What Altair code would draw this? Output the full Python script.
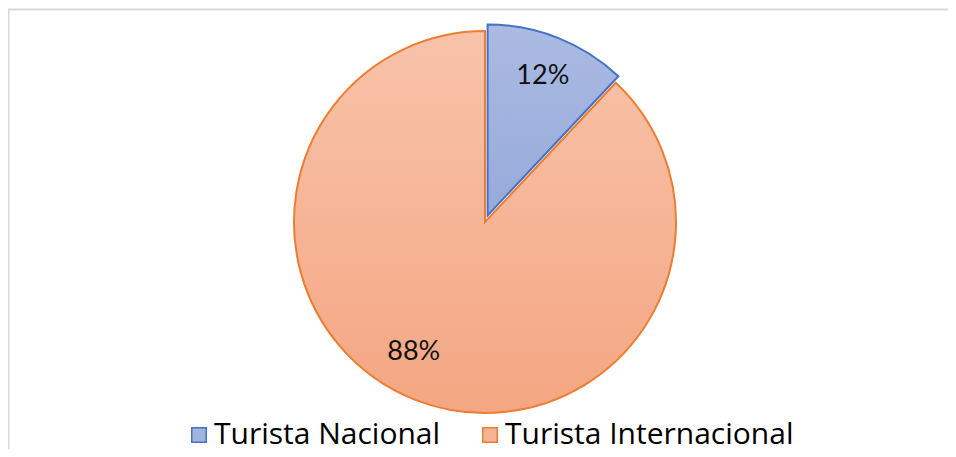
import altair as alt
import pandas as pd

# data
categories = ["Turista Nacional", "Turista Internacional"]
shares = [12, 88]
orders = [1, 2]

df = pd.DataFrame({"cat": categories, "value": shares, "ord": orders})

fill_colors = ["#a2b3de", "#f6b496"]
stroke_colors = ["#4472c4", "#ed7d31"]

CX, CY = 477, 214          # centre of the pie
BX, BY = 479.6, 207.5      # centre of the exploded slice
R = 191

theta = alt.Theta("value:Q", stack=True)
order = alt.Order("ord:Q")

orange_grad = alt.Gradient(
    gradient="linear",
    stops=[alt.GradientStop(color="#f8c3aa", offset=0),
           alt.GradientStop(color="#f4a682", offset=1)],
    x1=0, x2=0, y1=0, y2=1,
)
blue_grad = alt.Gradient(
    gradient="linear",
    stops=[alt.GradientStop(color="#aabae2", offset=0),
           alt.GradientStop(color="#97aad9", offset=1)],
    x1=0, x2=0, y1=0, y2=1,
)

is_nac = alt.datum.cat == "Turista Nacional"

base = alt.Chart(df)

orange_arc = base.mark_arc(radius=R, fill=orange_grad, stroke="#ed7d31", strokeWidth=2).encode(
    theta=theta, order=order,
    x=alt.value(CX), y=alt.value(CY),
    opacity=alt.condition(is_nac, alt.value(0), alt.value(1)),
)

blue_arc = base.mark_arc(radius=R, fill=blue_grad, stroke="#4472c4", strokeWidth=2).encode(
    theta=theta, order=order,
    x=alt.value(BX), y=alt.value(BY),
    opacity=alt.condition(is_nac, alt.value(1), alt.value(0)),
)

legend_layer = base.mark_arc(radius=0).encode(
    theta=theta, order=order,
    x=alt.value(CX), y=alt.value(CY),
    fill=alt.Fill("cat:N", scale=alt.Scale(domain=categories, range=fill_colors),
                  legend=alt.Legend(title=None, orient="none", direction="horizontal",
                                    legendX=176, legendY=412, symbolType="square",
                                    symbolSize=210, symbolStrokeWidth=1.5,
                                    labelFont="Open Sans", labelFontSize=30, labelColor="#000000",
                                    labelOffset=0, columnPadding=34, labelLimit=500,
                                    padding=0, symbolOpacity=1)),
    stroke=alt.Stroke("cat:N", scale=alt.Scale(domain=categories, range=stroke_colors)),
)

blue_text = base.transform_calculate(label="datum.value + '%'").mark_text(
    radius=150, font="Lato", fontSize=27, color="#111111", align="center", baseline="middle"
).encode(
    theta=theta, order=order, text="label:N",
    x=alt.value(BX), y=alt.value(BY),
    opacity=alt.condition(is_nac, alt.value(1), alt.value(0)),
)

orange_text = base.transform_calculate(label="datum.value + '%'").mark_text(
    radius=150, font="Lato", fontSize=27, color="#111111", align="center", baseline="middle",
    dx=-16, dy=-9
).encode(
    theta=theta, order=order, text="label:N",
    x=alt.value(CX), y=alt.value(CY),
    opacity=alt.condition(is_nac, alt.value(0), alt.value(1)),
)

border_data = alt.Data(values=[{"k": 1}])
top_rule = alt.Chart(border_data).mark_rule(color="#d9d9d9", strokeWidth=2).encode(
    x=alt.value(0), x2=alt.value(940), y=alt.value(1.5)
)
left_rule = alt.Chart(border_data).mark_rule(color="#d9d9d9", strokeWidth=2).encode(
    x=alt.value(0.5), y=alt.value(1.5), y2=alt.value(441)
)

chart = alt.layer(
    top_rule, left_rule, legend_layer, orange_arc, blue_arc, blue_text, orange_text
).properties(
    width=940, height=441, padding=0,
    autosize=alt.AutoSizeParams(type="none"),
).configure_view(stroke=None)

chart.save("out.html", embed_options={"renderer": "svg", "actions": False})
